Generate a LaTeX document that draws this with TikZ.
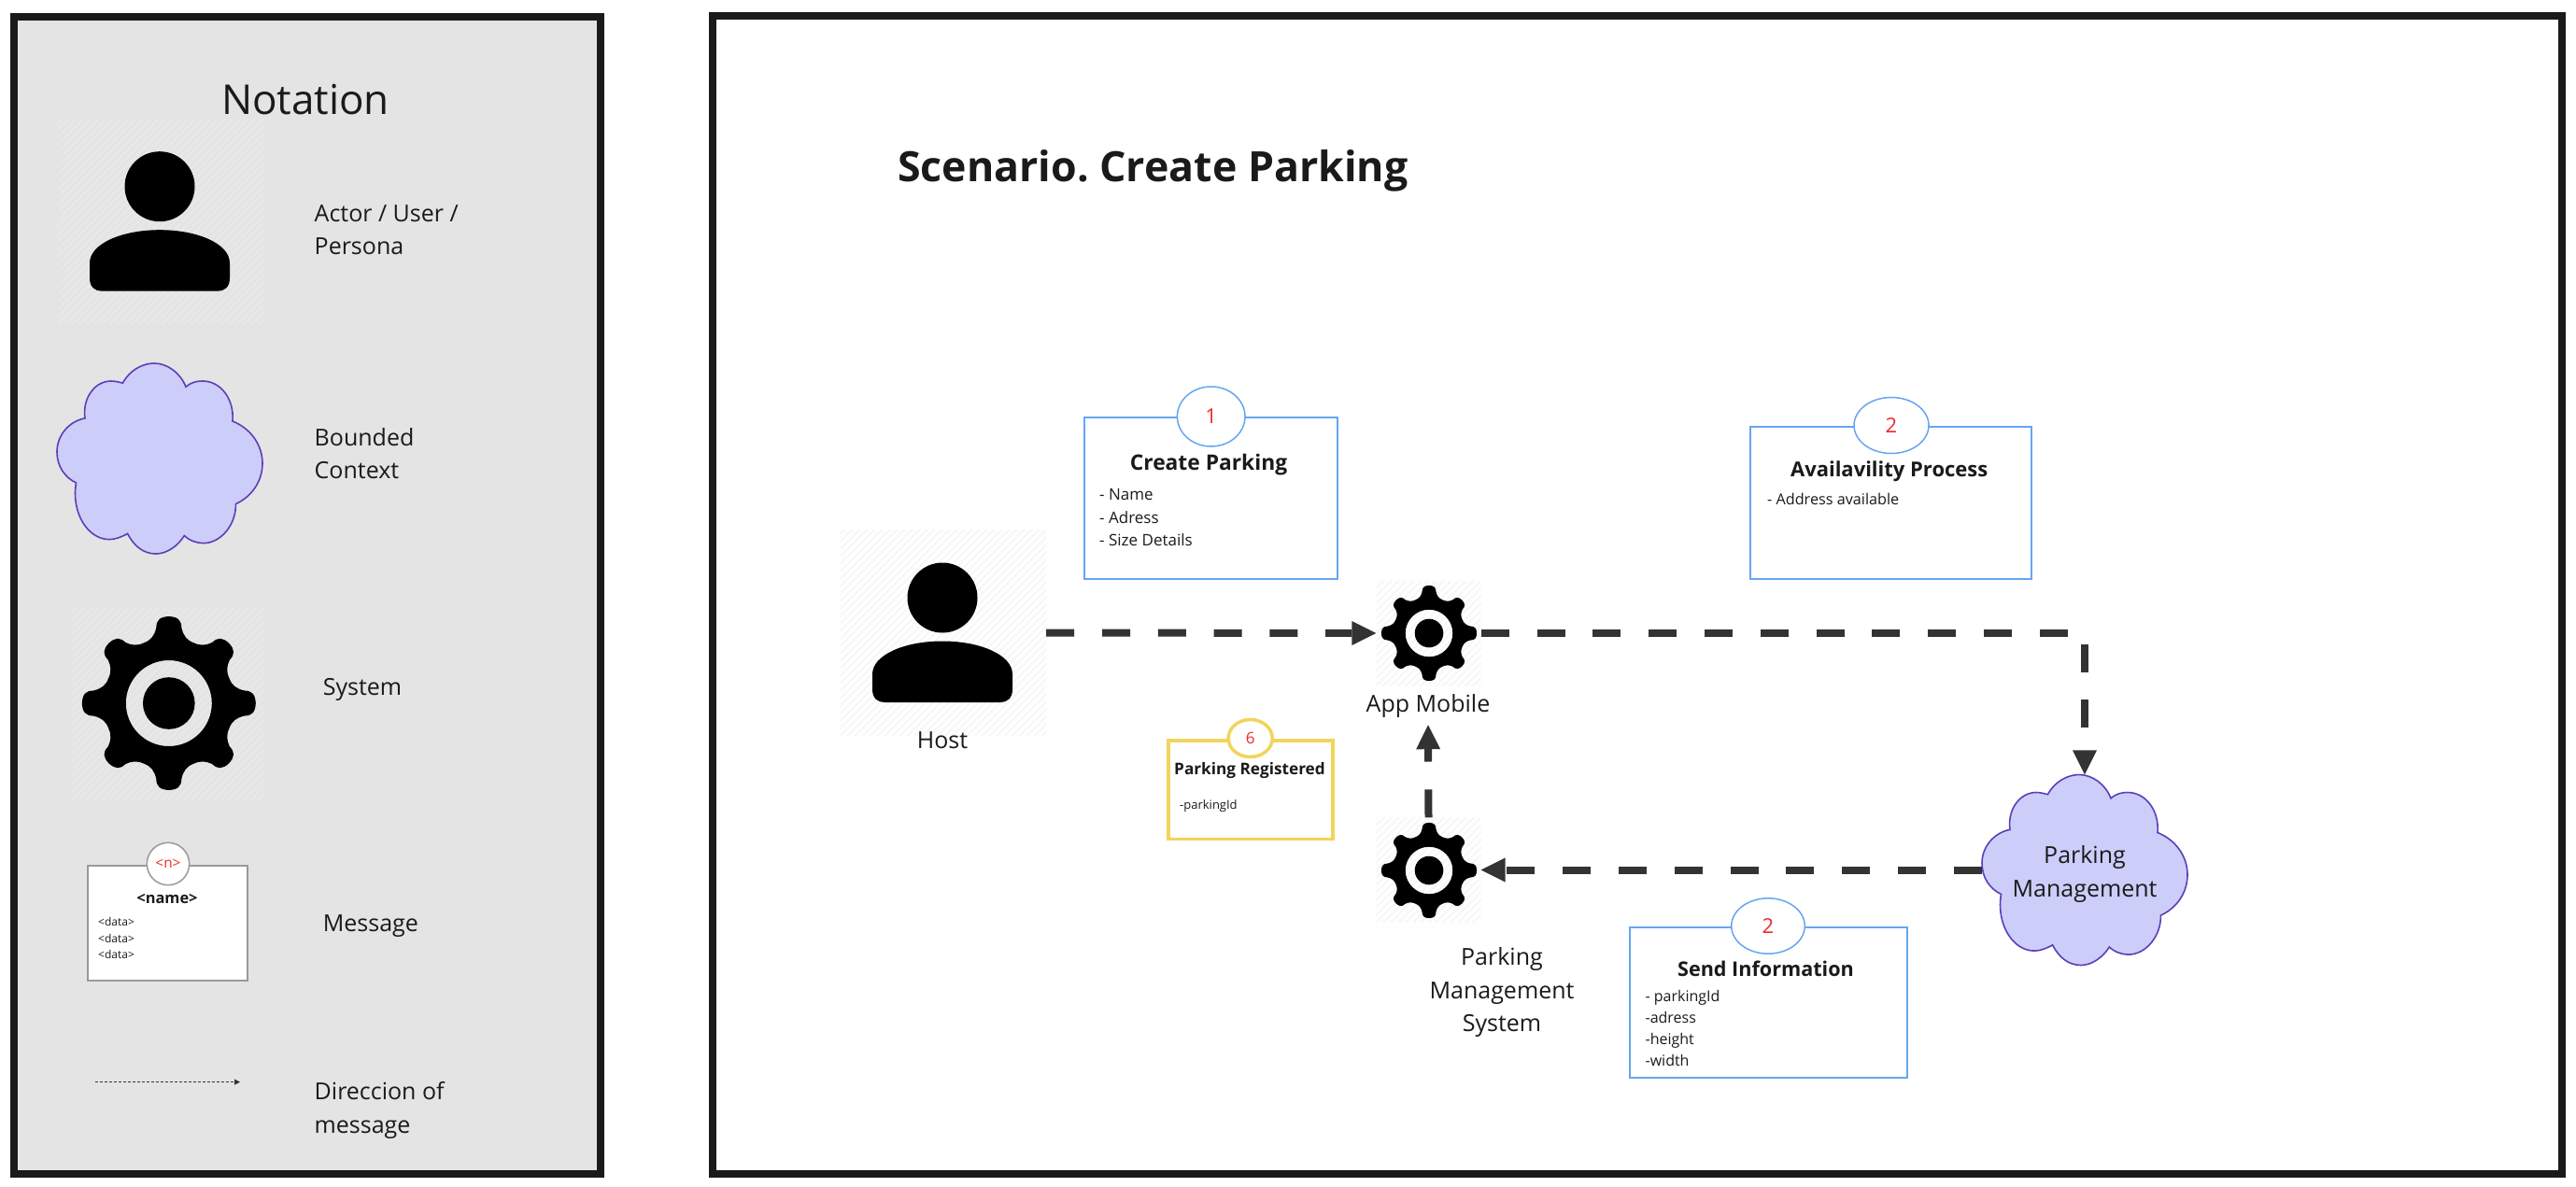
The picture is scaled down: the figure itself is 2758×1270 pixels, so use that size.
\documentclass[tikz,border=0pt]{standalone}
\usepackage{fontspec}
\setmainfont{Open Sans}
\usetikzlibrary{arrows.meta,shapes.geometric}
\definecolor{ink}{HTML}{1A1A1A}
\definecolor{flow}{HTML}{333333}
\definecolor{cloudfill}{HTML}{CDCDFA}
\definecolor{cloudline}{HTML}{5B3FB8}
\definecolor{msgblue}{HTML}{66A6F0}
\definecolor{msgyellow}{HTML}{F2D45C}
\definecolor{msggrey}{HTML}{999999}
\definecolor{numred}{HTML}{EE2A2A}
\definecolor{panelgrey}{HTML}{E4E4E4}
\definecolor{hatchonwhite}{HTML}{F7F7F7}
\definecolor{hatchongrey}{HTML}{E8E8E8}
\newcommand{\fz}[2]{\fontsize{#1}{#2}\selectfont}
\newcommand{\gearpath}{%
  (-22.5:70)
  \foreach \a [evaluate=\a as \r using {int(mod(\a,90))==0?93:91}] in {0,45,...,315}{
    .. controls (\a-16:70) and (\a-12:74) .. (\a-9.5:\r-11)
    .. controls (\a-8.5:\r-3) and (\a-6:\r) .. (\a:\r)
    .. controls (\a+6:\r) and (\a+8.5:\r-3) .. (\a+9.5:\r-11)
    .. controls (\a+12:74) and (\a+16:70) .. (\a+22.5:70)
  } -- cycle
  (0,0) circle[radius=46] (0,0) circle[radius=27.8]}
\tikzset{
  x=1pt,y=-1pt,
  panel/.style={draw=ink,line width=8pt,inner sep=0pt,outer sep=0pt,anchor=north west},
  hatchbox/.style={draw=none,inner sep=0pt,minimum width=#1,minimum height=#1,
    path picture={
      \foreach \k in {-40,...,40}{
        \draw[line width=2.4pt,color=hatchcolor]
          ([shift={(\k*8-150,150)}]path picture bounding box.center) --
          ([shift={(\k*8+150,-150)}]path picture bounding box.center);
      }}},
  hatchbox/.default=220pt,
  lbl/.style={inner sep=0pt,anchor=base west,align=left,text=ink},
  lblc/.style={inner sep=0pt,anchor=base,align=center,text=ink},
  msgbox/.style={draw=#1,fill=white,line width=2pt,inner sep=0pt,outer sep=0pt,anchor=north west},
  msgnum/.style={ellipse,draw=#1,fill=white,line width=1.5pt,inner sep=0pt,text=numred},
  flowline/.style={draw=flow,line width=8pt,dash pattern=on 30pt off 29.8pt,
    -{Triangle[length=26pt,width=26pt,color=flow,line width=0pt,sep=0pt]}},
  personpic/.pic={
    \fill[black] (0,0) circle[radius=37.5];
    \fill[black] (-75,98) .. controls (-75,108) and (-69,112) .. (-62,112) -- (62,112)
       .. controls (69,112) and (75,108) .. (75,98) -- (75,82)
       .. controls (75,61) and (40,46.5) .. (0,46.5)
       .. controls (-40,46.5) and (-75,61) .. (-75,82) -- cycle;
  },
  cloudshape/.pic={
    \path[fill=cloudfill,draw=cloudline,line width=1.6pt,line join=miter]
      (70.4,21.2) .. controls (78,7) and (92,0) .. (104,0)
      .. controls (118,0) and (132,10) .. (138,25.3)
      .. controls (144,20) and (150,19) .. (156,19)
      .. controls (175,19) and (190,38) .. (188,62)
      .. controls (208,70) and (220,88) .. (220,107)
      .. controls (220,127) and (208,143) .. (191.4,150.6)
      .. controls (192,172) and (176,192.6) .. (156.7,192.6)
      .. controls (150,192.6) and (142,190) .. (136.3,184.5)
      .. controls (130,195) and (118,204) .. (106,204)
      .. controls (92,204) and (82,195) .. (75.6,182.4)
      .. controls (68,186.5) and (62,188.6) .. (56,188.6)
      .. controls (33,188.6) and (15,160) .. (20.5,128)
      .. controls (8,122) and (0,110) .. (0,94.7)
      .. controls (0,77) and (13,62) .. (30,58.8)
      .. controls (27,38) and (40,19) .. (58,19)
      .. controls (62,19) and (66,20) .. (70.4,21.2) -- cycle;
  },
}
\begin{document}
\frenchspacing
\begin{tikzpicture}
\useasboundingbox (0,0) rectangle (2758,1270);
\fill[white] (0,0) rectangle (2758,1270);

% ---------- panels ----------
\node[panel,fill=panelgrey,minimum width=627.5pt,minimum height=1239.5pt] (notationpanel) at (15,17.5) {};
\node[panel,fill=white,minimum width=1980pt,minimum height=1239.7pt] (mainpanel) at (763,17.3) {};

% ---------- notation ----------
\node[lblc,font=\fz{44}{50}] (notationtitle) at (327,122) {Notation};

\colorlet{hatchcolor}{hatchongrey}
\node[hatchbox=220pt] (nactor) at (172,237) {};
\pic at (171,199.7) {personpic};
\node[lbl,font=\fz{25}{35}] (nactortxt) at (336.5,272.6) {Actor / User /\\Persona};

\pic at (61,389) {cloudshape};
\node[lbl,font=\fz{25}{35}] (ncloudtxt) at (336.5,512.6) {Bounded\\Context};

\node[hatchbox=204pt] (ngear) at (180,753) {};
\path[fill=black,even odd rule,shift={(180.8,753)}] \gearpath;
\node[lbl,font=\fz{25}{30}] (ngeartxt) at (345.6,744) {System};

\node[msgbox=msggrey,minimum width=171pt,minimum height=123pt] (nmsg) at (94,927) {};
\node[msgnum=msggrey,minimum width=45.4pt,minimum height=45.4pt,font=\fz{15.4}{18}] (nmsgnum) at (180,925) {<n>};
\node[lblc,font=\fz{16.4}{20}\bfseries] (nmsgtitle) at (179,967) {<name>};
\node[lbl,font=\fz{12}{17.5}] (nmsgdata) at (105,1026.5) {<data>\\<data>\\<data>};
\node[lbl,font=\fz{25}{30}] (nmsgtxt) at (345.6,997) {Message};

\coordinate (ndirstart) at (102,1158.6);
\coordinate (ndirend) at (257,1158.6);
\draw[color=flow,line width=1pt,dash pattern=on 3pt off 2pt,-{Triangle[length=6pt,width=6pt,color=flow]}] (ndirstart) -- (ndirend);
\node[lbl,font=\fz{25}{36}] (ndirtxt) at (336.5,1213) {Direccion of\\message};

% ---------- scenario ----------
\node[lbl,font=\fz{44.7}{50}\bfseries] (scentitle) at (961,194) {Scenario. Create Parking};

\colorlet{hatchcolor}{hatchonwhite}
\node[hatchbox=220pt] (host) at (1010,677.5) {};
\pic at (1009,640) {personpic};
\node[lblc,font=\fz{25}{30}] (hosttxt) at (1009,801) {Host};

\node[hatchbox=112pt] (app) at (1529.5,678) {};
\path[fill=black,even odd rule,shift={(1530,678)},scale=0.55] \gearpath;
\node[lblc,font=\fz{25}{30}] (apptxt) at (1529,762) {App Mobile};

\node[hatchbox=112pt] (pms) at (1529.5,931.5) {};
\path[fill=black,even odd rule,shift={(1530,932)},scale=0.55] \gearpath;
\node[lblc,font=\fz{25}{35.5}] (pmstxt) at (1608,1104.5) {Parking\\Management\\System};

\pic at (2122,829.5) {cloudshape};
\node[inner sep=0pt,minimum width=220pt,minimum height=204pt] (pmcloud) at (2232,931.5) {};
\node[lblc,font=\fz{25}{36}] (pmcloudtxt) at (2232,960) {Parking\\Management};

% message 1
\node[msgbox=msgblue,minimum width=271pt,minimum height=172.7pt] (m1) at (1161,447.3) {};
\node[msgnum=msgblue,minimum width=72.6pt,minimum height=64pt,font=\fz{22}{26}] (m1num) at (1296.7,446) {1};
\node[lblc,font=\fz{22.8}{28}\bfseries] (m1title) at (1294,503) {Create Parking};
\node[lbl,font=\fz{17}{24.5}] (m1items) at (1177,584.5) {- Name\\- Adress\\- Size Details};

% message 2
\node[msgbox=msgblue,minimum width=301pt,minimum height=163pt] (m2) at (1874,457) {};
\node[msgnum=msgblue,minimum width=80pt,minimum height=60pt,font=\fz{22}{26}] (m2num) at (2025,455.5) {2};
\node[lblc,font=\fz{22}{28}\bfseries] (m2title) at (2022.7,510.5) {Availavility Process};
\node[lbl,font=\fz{16.2}{20}] (m2items) at (1892,540) {- Address available};

% message 3
\node[msgbox=msgblue,minimum width=296.5pt,minimum height=160.7pt] (m3) at (1745,993) {};
\node[msgnum=msgblue,minimum width=78.6pt,minimum height=59.4pt,font=\fz{22}{26}] (m3num) at (1893,991.5) {2};
\node[lblc,font=\fz{21.6}{28}\bfseries] (m3title) at (1890.5,1045.5) {Send Information};
\node[lbl,font=\fz{16}{23}] (m3items) at (1761.4,1141.7) {- parkingId\\-adress\\-height\\-width};

% message 4
\node[msgbox=msgyellow,line width=3.5pt,minimum width=176pt,minimum height=105.7pt] (m4) at (1251,793) {};
\node[msgnum=msgyellow,line width=3.5pt,minimum width=47.2pt,minimum height=40pt,font=\fz{17}{20}] (m4num) at (1338.7,790.5) {6};
\node[lblc,font=\fz{17.2}{22}\bfseries] (m4title) at (1338,829.5) {Parking Registered};
\node[lbl,font=\fz{13}{16}] (m4items) at (1263,866) {-parkingId};

% ---------- connectors ----------
\draw[flowline] (host.east) -- (app.west);
\draw[flowline] (app.east) -| (pmcloud.north);
\draw[flowline] (pmcloud.west) -- (pms.east);
\draw[flowline] (pms.north) -- ([yshift=-8pt]apptxt.south);
\end{tikzpicture}
\end{document}
